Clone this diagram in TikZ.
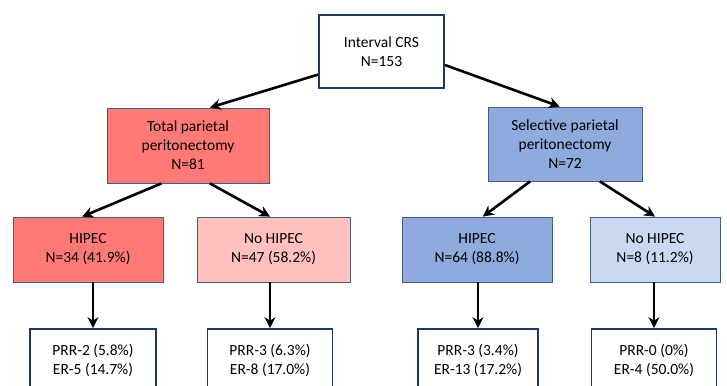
\documentclass[tikz,border=0pt]{standalone}
\usepackage{fontspec}
\setmainfont{Carlito}
\usetikzlibrary{arrows.meta}

\definecolor{navy}{RGB}{32,56,100}
\definecolor{edgeblue}{RGB}{70,92,128}
\definecolor{redfill}{RGB}{255,122,118}
\definecolor{pinkfill}{RGB}{255,192,190}
\definecolor{bluefill}{RGB}{143,170,220}
\definecolor{lightblue}{RGB}{202,216,241}

\tikzset{
  mainbox/.style={draw=navy, line width=1.8pt, fill=white, align=center, inner sep=0pt},
  armbox/.style={draw=edgeblue, line width=0.8pt, align=center, inner sep=0pt},
  flow/.style={-{Stealth[length=11pt,width=11pt]}, line width=2.6pt},
}

\begin{document}
\begin{tikzpicture}[x=1pt,y=-1pt,font=\fontsize{15.5}{19}\selectfont]
\path[use as bounding box, clip] (0,0) rectangle (727,385);
% top
\node (crs) at (381.5,51.5) [mainbox, minimum width=125, minimum height=73] {Interval CRS\\N=153};
% peritonectomy
\node (total) at (188,145.5) [armbox, fill=redfill, minimum width=162, minimum height=75] {Total parietal\\peritonectomy\\N=81};
\node (sel) at (565,144) [armbox, fill=bluefill, minimum width=154, minimum height=74] {Selective parietal\\peritonectomy\\N=72};
% hipec or not
\node (hipecT) at (88,249.5) [armbox, fill=redfill, minimum width=150, minimum height=65] {HIPEC\\N=34 (41.9\%)};
\node (nohipecT) at (273.5,249.5) [armbox, fill=pinkfill, minimum width=153, minimum height=65] {No HIPEC\\N=47 (58.2\%)};
\node (hipecS) at (477,249.5) [armbox, fill=bluefill, minimum width=150, minimum height=65] {HIPEC\\N=64 (88.8\%)};
\node (nohipecS) at (655,249.5) [armbox, fill=lightblue, minimum width=130, minimum height=65] {No HIPEC\\N=8 (11.2\%)};
% outcomes
\node (resT1) at (93,360) [mainbox, minimum width=126, minimum height=62] {PRR-2 (5.8\%)\\ER-5 (14.7\%)};
\node (resT2) at (270,360) [mainbox, minimum width=125, minimum height=62] {PRR-3 (6.3\%)\\ER-8 (17.0\%)};
\node (resS1) at (478,360) [mainbox, minimum width=120, minimum height=62] {PRR-3 (3.4\%)\\ER-13 (17.2\%)};
\node (resS2) at (654,360) [mainbox, minimum width=125, minimum height=62] {PRR-0 (0\%)\\ER-4 (50.0\%)};

\draw[flow] (crs.200) -- (total.60);
\draw[flow] (crs.-12) -- (sel.98);
\draw[flow] (total.-125) -- (hipecT.100);
\draw[flow] (total.-60) -- (nohipecT.96);
\draw[flow] (sel.-133) -- (hipecS.80);
\draw[flow] (sel.-47) -- (nohipecS.north);
\draw[flow] (resT1.north |- hipecT.south) -- (resT1.north);
\draw[flow] (resT2.north |- nohipecT.south) -- (resT2.north);
\draw[flow] (resS1.north |- hipecS.south) -- (resS1.north);
\draw[flow] (resS2.north |- nohipecS.south) -- (resS2.north);
\end{tikzpicture}
\end{document}
